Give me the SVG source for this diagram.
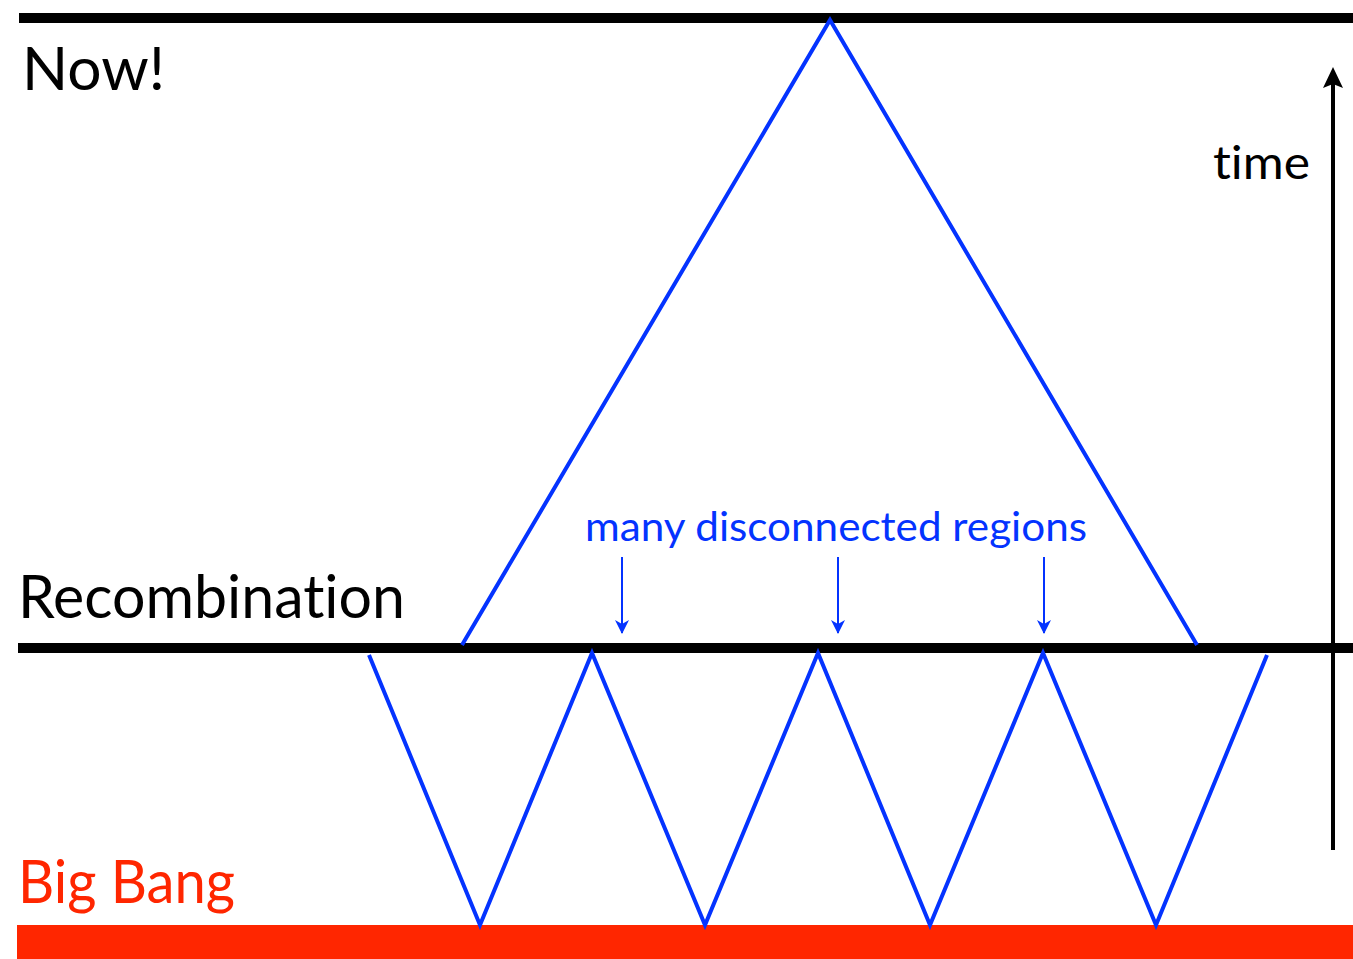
<svg xmlns="http://www.w3.org/2000/svg" width="1353" height="959" viewBox="0 0 1353 959">
<defs>
<style>
.lbl{font-family:"Lato","Open Sans","Liberation Sans",sans-serif;font-variant-ligatures:none;font-feature-settings:"liga" 0,"clig" 0;}
.blue{stroke:#0433FF;fill:none;stroke-width:4;stroke-linejoin:miter;}
.thin{stroke:#0433FF;fill:none;stroke-width:2;}
</style>
<marker id="ah" viewBox="0 0 14 14" refX="13" refY="7" markerWidth="14" markerHeight="14" markerUnits="userSpaceOnUse" orient="auto">
<path d="M0,0 L14,7 L0,14 L4,7 Z" fill="#0433FF"/>
</marker>
</defs>
<rect width="1353" height="959" fill="#fff"/>
<g id="now-line"><rect x="19" y="13" width="1334" height="10" fill="#000"/></g>
<g id="recomb-line"><rect x="18" y="643" width="1335" height="10" fill="#000"/></g>
<g id="bigbang-band"><rect x="17" y="925" width="1336" height="34" fill="#FF2600"/></g>
<g id="connectors">
<polyline class="blue" points="462,645 830,20 1197,645"/>
<polyline class="blue" points="369,655 480,925 592,653 705,925 818,653 930,925 1043,653 1156,925 1267,655"/>
<line class="thin" x1="622" y1="557" x2="622" y2="633" marker-end="url(#ah)"/>
<line class="thin" x1="838" y1="557" x2="838" y2="633" marker-end="url(#ah)"/>
<line class="thin" x1="1044" y1="557" x2="1044" y2="633" marker-end="url(#ah)"/>
<line x1="1333" y1="850" x2="1333" y2="82" stroke="#000" stroke-width="4"/>
<path d="M1333,67 L1343,88 L1333,84 L1323,88 Z" fill="#000"/>
</g>
<g id="label-now"><text class="lbl" x="22" y="90" font-size="60" fill="#000" textLength="143" lengthAdjust="spacingAndGlyphs">Now!</text></g>
<g id="label-time"><text class="lbl" x="1213" y="179" font-size="46" fill="#000" textLength="97" lengthAdjust="spacingAndGlyphs">time</text></g>
<g id="label-recomb"><text class="lbl" x="18" y="618" font-size="60" fill="#000" textLength="387" lengthAdjust="spacingAndGlyphs">Recombination</text></g>
<g id="label-regions"><text class="lbl" x="585" y="541" font-size="40" fill="#0433FF" textLength="502" lengthAdjust="spacingAndGlyphs">many disconnected regions</text></g>
<g id="label-bigbang"><text class="lbl" x="18" y="903" font-size="60" fill="#FF2600" textLength="217" lengthAdjust="spacingAndGlyphs">Big Bang</text></g>
</svg>
